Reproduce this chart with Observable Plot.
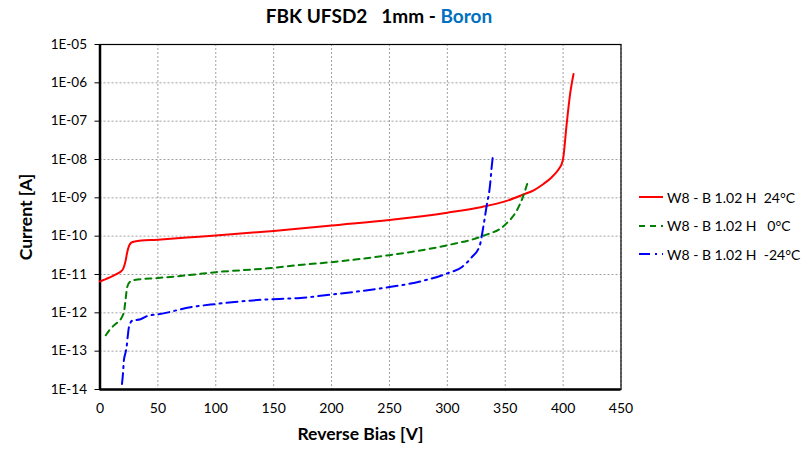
<!DOCTYPE html>
<html>
<head>
<meta charset="utf-8">
<script src="https://cdn.jsdelivr.net/npm/d3@7"></script>
<script src="https://cdn.jsdelivr.net/npm/@observablehq/plot@0.6"></script>
<style>
  html, body { margin: 0; padding: 0; background: #fff; }
  #wrap { position: relative; width: 804px; height: 449px; font-family: Lato, "Open Sans", sans-serif; }
  #title { position: absolute; left: 0; top: 4px; width: 758px; text-align: center; font-weight: bold; font-size: 19px; color: #000; }
  #title .b { color: #0070C0; }
  #chart { position: absolute; left: 0; top: 0; }
  #legend { position: absolute; left: 638px; top: 183px; font-size: 14px; color: #000; }
  #legend .row { height: 28.5px; display: flex; align-items: center; white-space: pre; }
  #legend svg { margin-right: 3px; }
</style>
</head>
<body>
<div id="wrap">
  <div id="chart"></div>
  <div id="title">FBK UFSD2&nbsp;&nbsp;&nbsp;1mm - <span class="b">Boron</span></div>
  <div id="legend"></div>
</div>
<script>
// Series: [reverse bias V, current A]
const red24 = [
  [0, 6.6e-12], [5, 7.6e-12], [10, 8.8e-12], [15, 1.05e-11], [18, 1.2e-11], [20, 1.4e-11],
  [22, 2.2e-11], [23.5, 3.8e-11], [25, 5.5e-11], [27, 6.8e-11], [30, 7.3e-11], [50, 8.1e-11],
  [75, 9.2e-11], [100, 1.04e-10], [150, 1.37e-10], [175, 1.6e-10], [200, 1.9e-10], [250, 2.65e-10],
  [300, 4.1e-10], [330, 5.8e-10], [350, 8.1e-10], [365, 1.2e-9], [375, 1.6e-9], [383, 2.3e-9],
  [390, 3.4e-9], [396, 5.5e-9], [399, 8e-9], [400, 1.05e-8], [403, 8e-8], [406, 5e-7], [409, 1.7e-6]
];
const green0 = [
  [5, 2.6e-13], [8, 3.5e-13], [12, 4.7e-13], [16, 6e-13], [19, 7.8e-13], [21, 1.2e-12],
  [22, 2.1e-12], [23.5, 4.7e-12], [26, 6.5e-12], [30, 7.2e-12], [50, 8.1e-12], [75, 9.5e-12],
  [100, 1.15e-11], [145, 1.45e-11], [175, 1.8e-11], [200, 2.1e-11], [250, 3.2e-11], [300, 5.8e-11],
  [330, 1e-10], [350, 2e-10], [360, 4.7e-10], [365, 1e-9], [370, 2.95e-9]
];
const blueM24 = [
  [19, 1.4e-14], [20, 3e-14], [20.6, 5.7e-14], [22, 9e-14], [23, 1.3e-13], [24, 2.5e-13],
  [25, 4.2e-13], [28, 6.3e-13], [35, 6.8e-13], [42, 8.5e-13], [50, 9.1e-13], [78, 1.4e-12],
  [100, 1.7e-12], [140, 2.2e-12], [173, 2.45e-12], [200, 3e-12], [250, 4.7e-12], [277, 6.6e-12],
  [300, 1.07e-11], [313, 1.6e-11], [321, 2.8e-11], [328, 5.7e-11], [331, 1.7e-10], [334, 6.3e-10],
  [337, 2.3e-9], [338, 5.1e-9], [339.5, 1.35e-8]
];
const seriesNames = ["W8 - B 1.02 H  24°C", "W8 - B 1.02 H   0°C", "W8 - B 1.02 H  -24°C"];
const xTicks = [0, 50, 100, 150, 200, 250, 300, 350, 400, 450];
const yTicks = [1e-5, 1e-6, 1e-7, 1e-8, 1e-9, 1e-10, 1e-11, 1e-12, 1e-13, 1e-14];
const xLabel = "Reverse Bias [V]";
const yLabel = "Current [A]";

const styles = [
  {stroke: "#FF0000", dash: null},
  {stroke: "#008000", dash: "6,5"},
  {stroke: "#0000FF", dash: "11,5,2,5"}
];
const allSeries = [red24, green0, blueM24];

const fmtE = d => {
  const e = Math.round(Math.log10(d));
  return "1E" + (e < 0 ? "-" : "+") + String(Math.abs(e)).padStart(2, "0");
};

const chart = Plot.plot({
  width: 804,
  height: 449,
  marginTop: 44,
  marginBottom: 60,
  marginLeft: 99.5,
  marginRight: 183.5,
  style: {fontFamily: "Lato, 'Open Sans', sans-serif", fontSize: "13px", color: "#000", background: "#fff"},
  x: {domain: [0, 450], ticks: xTicks},
  y: {type: "log", domain: [1e-14, 1e-5], ticks: yTicks},
  marks: [
    Plot.gridX(xTicks, {stroke: "#a0a0a0", strokeOpacity: 1, strokeDasharray: "2,2"}),
    Plot.gridY(yTicks, {stroke: "#a0a0a0", strokeOpacity: 1, strokeDasharray: "2,2"}),
    Plot.frame({stroke: "#000", strokeWidth: 1.2}),
    Plot.ruleX([0], {stroke: "#000", strokeWidth: 2.5}),
    Plot.ruleY([1e-14], {stroke: "#000", strokeWidth: 2.5}),
    Plot.axisX(xTicks, {tickSize: 0, tickPadding: 14, fontSize: 14, label: xLabel, labelAnchor: "center", labelArrow: "none", labelOffset: 50}),
    Plot.axisY(yTicks, {tickSize: 5, tickPadding: 8, fontSize: 13.5, tickFormat: fmtE, label: yLabel, labelAnchor: "center", labelArrow: "none", labelOffset: 80}),
    ...allSeries.map((s, i) => Plot.line(s, {
      x: d => d[0], y: d => d[1], stroke: styles[i].stroke, strokeWidth: 2,
      strokeDasharray: styles[i].dash, curve: "monotone-x"
    }))
  ]
});
document.getElementById("chart").appendChild(chart);

// bold, larger axis titles
d3.select(chart).selectAll("text")
  .filter(function() { return this.textContent === xLabel || this.textContent === yLabel; })
  .style("font-weight", "bold").style("font-size", "17.5px");

// legend
const leg = d3.select("#legend");
seriesNames.forEach((name, i) => {
  const row = leg.append("div").attr("class", "row");
  const sv = row.append("svg").attr("width", 26).attr("height", 10);
  sv.append("line").attr("x1", 1).attr("x2", 25).attr("y1", 5).attr("y2", 5)
    .attr("stroke", styles[i].stroke).attr("stroke-width", 2)
    .attr("stroke-dasharray", styles[i].dash);
  row.append("span").text(name);
});
</script>
</body>
</html>
